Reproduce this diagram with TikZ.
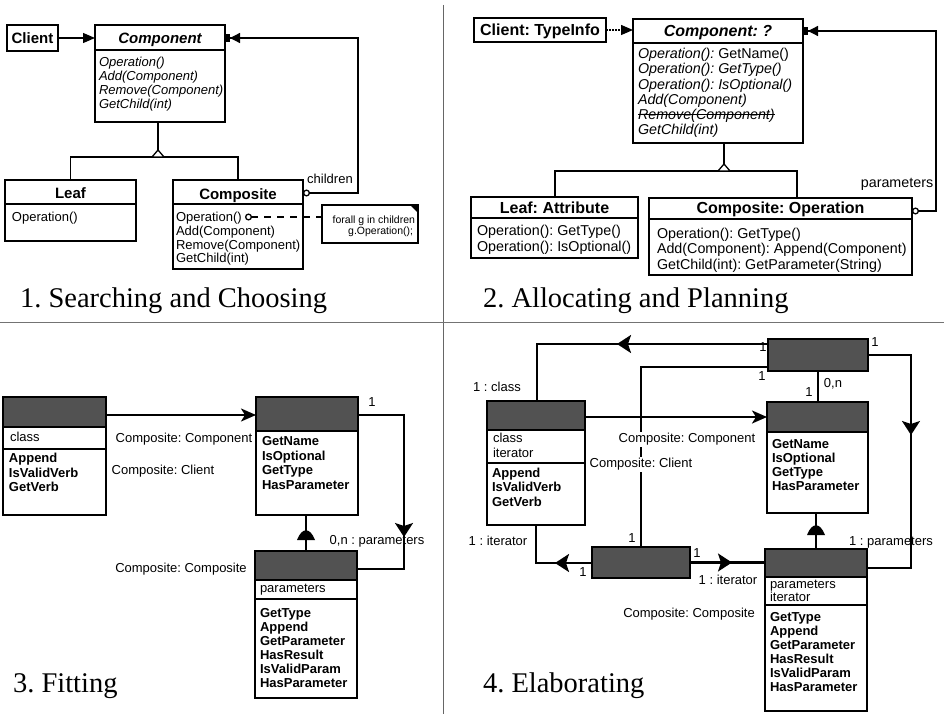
\documentclass[tikz,border=0pt]{standalone}
\usepackage{fontspec}
\setmainfont{Liberation Serif}
\setsansfont{Liberation Sans}
\usetikzlibrary{arrows.meta,decorations.markings}
\frenchspacing

% horizontal compartment rule across a class box, #3 below its top edge
\newcommand\cmpline[3][]{\draw[#1] ([yshift=-#3]#2.north west) -- ([yshift=-#3]#2.north east);}

\begin{document}
\begin{tikzpicture}[x=1pt,y=-1pt,
  every node/.style={inner sep=0pt,outer sep=0pt},
  caption/.style={font=\fontsize{28.5}{30}\selectfont,anchor=base west},
  % plain class boxes (top row)
  ubox/.style={draw,line width=1.5pt,anchor=north west},
  usep/.style={line width=1.3pt},
  uline/.style={line width=1.3pt},
  tA/.style={font=\sffamily\bfseries\itshape\fontsize{15}{17}\selectfont,anchor=base},
  tB/.style={font=\sffamily\bfseries\fontsize{15}{17}\selectfont,anchor=base},
  tA2/.style={font=\sffamily\bfseries\itshape\fontsize{16}{18}\selectfont,anchor=base},
  tB2/.style={font=\sffamily\bfseries\fontsize{16}{18}\selectfont,anchor=base},
  bR/.style={font=\sffamily\fontsize{13}{14}\selectfont,anchor=base west},
  bI/.style={font=\sffamily\itshape\fontsize{13}{14}\selectfont,anchor=base west},
  bR2/.style={font=\sffamily\fontsize{14.3}{15}\selectfont,anchor=base west},
  lab2/.style={font=\sffamily\fontsize{14.3}{15}\selectfont,anchor=base},
  lab1/.style={font=\sffamily\fontsize{13}{14}\selectfont,anchor=base},
  notetext/.style={font=\sffamily\fontsize{10.5}{12}\selectfont,anchor=base east},
  gentri/.style={line width=1.3pt,fill=white,line join=miter},
  utip/.style={-{Triangle[length=12pt,width=10pt]}},
  owntip/.style={{Circle[open,length=7pt,width=7pt]}-{Triangle[length=10pt,width=10pt]Square[length=5pt,width=8pt]}},
  % class boxes with dark headers (bottom row)
  hdfill/.style={fill=black!68},
  dbox/.style={draw,line width=2.2pt,anchor=north west},
  dhead/.style={path picture={\fill[hdfill] (path picture bounding box.north west) rectangle ([yshift=-#1]path picture bounding box.north east);}},
  dsep/.style={line width=2.2pt},
  dline/.style={line width=2.2pt},
  mB/.style={font=\sffamily\bfseries\fontsize{13}{14}\selectfont,anchor=base west},
  mR/.style={font=\sffamily\fontsize{13}{14}\selectfont,anchor=base west},
  dlab/.style={font=\sffamily\fontsize{13}{14}\selectfont,anchor=base},
  wlab/.style={dlab,fill=white,inner sep=1.5pt},
  endtip/.style={-{Stealth[length=15pt,width=13pt,inset=4pt]}},
  midarrow/.style={postaction={decorate,decoration={markings,
      mark=at position #1 with {\arrow{Stealth[length=14pt,width=18pt,inset=3pt]}}}}},
  dome/.style={fill=black}
]
\useasboundingbox (0,0) rectangle (944,714);
\fill[white] (0,0) rectangle (944,714);

% quadrant dividers
\draw[line width=0.7pt,black!60] (443,5) -- (443,714);
\draw[line width=0.7pt,black!55] (0,322) -- (944,322);

%% ---------------- 1. Searching and Choosing ----------------
\node[ubox,line width=2.2pt,minimum width=51pt,minimum height=26pt] (cli1) at (7,25) {};
\node[tB] (cli1t) at (32.5,43.4) {Client};

\node[ubox,minimum width=130pt,minimum height=97pt] (cmp1) at (95,25) {};
\cmpline[usep]{cmp1}{25pt}
\node[tA] (cmp1t) at (160,43.4) {Component};
\node[bI] (cmp1a) at (99,66.7) {Operation()};
\node[bI] (cmp1b) at (99,80.8) {Add(Component)};
\node[bI] (cmp1c) at (99,94.9) {Remove(Component)};
\node[bI] (cmp1d) at (99,109) {GetChild(int)};

\node[ubox,minimum width=131pt,minimum height=61pt] (leaf1) at (5,180) {};
\cmpline[usep]{leaf1}{24pt}
\node[tB] (leaf1t) at (70.5,198.4) {Leaf};
\node[bR] (leaf1a) at (12,221.7) {Operation()};

\node[ubox,minimum width=130pt,minimum height=89pt] (cps1) at (173,180) {};
\cmpline[usep]{cps1}{24pt}
\node[tB] (cps1t) at (238,199) {Composite};
\node[bR] (cps1a) at (176,221.7) {Operation()};
\node[bR] (cps1b) at (176,235.4) {Add(Component)};
\node[bR] (cps1c) at (176,249.1) {Remove(Component)};
\node[bR] (cps1d) at (176,262.8) {GetChild(int)};

\node[draw,line width=1.1pt,anchor=north west,minimum width=96pt,minimum height=38pt] (note1) at (322,205) {};
\fill (note1.north east) -- ([xshift=-8pt]note1.north east) -- ([yshift=-8pt]note1.north east) -- cycle;
\node[notetext] (note1a) at (415,223.8) {forall g in children};
\node[notetext] (note1b) at (413,234.8) {g.Operation();};

\draw[uline,utip] (cli1.east) -- (cli1.east -| cmp1.west);

\coordinate (g1) at (158,157);
\draw[uline] (cmp1.south -| g1) -- (g1);
\draw[uline] (leaf1.north) -- (leaf1.north |- g1) -- (cps1.north |- g1) -- (cps1.north);
\draw[gentri] ([xshift=-6pt]g1) -- ([yshift=7pt]g1) -- ([xshift=6pt]g1) -- cycle;

\coordinate (ch1a) at (358,193);
\coordinate (ch1b) at (358,38);
\draw[uline,owntip] (cps1.east |- ch1a) -- (ch1a) -- (ch1b) -- (ch1b -| cmp1.east);
\node[lab1] (ch1l) at (330,183.7) {children};

\coordinate (op1) at (245,217);
\draw[uline,dash pattern=on 7pt off 6pt,{Circle[open,length=7pt,width=7pt]}-] (op1) -- (op1 -| note1.west);

\node[caption] (cap1) at (20,307) {1. Searching and Choosing};

%% ---------------- 2. Allocating and Planning ----------------
\node[ubox,line width=2.2pt,minimum width=132pt,minimum height=24pt] (cli2) at (474,18) {};
\node[tB2] (cli2t) at (540,35.8) {Client: TypeInfo};

\node[ubox,minimum width=170pt,minimum height=124pt] (cmp2) at (633,19) {};
\cmpline[usep]{cmp2}{24pt}
\node[tA2] (cmp2t) at (718,36.8) {Component: ?};
\node[bR2] (cmp2a) at (638,58.5) {\itshape Operation():\upshape\ GetName()};
\node[bR2] (cmp2b) at (638,73.8) {\itshape Operation(): GetType()};
\node[bR2] (cmp2c) at (638,89.1) {\itshape Operation(): IsOptional()};
\node[bR2] (cmp2d) at (638,104.4) {\itshape Add(Component)};
\node[bR2] (cmp2e) at (638,119.7) {\itshape Remove(Component)};
\draw[line width=1.1pt] (cmp2e.west |- 0,114.6) -- (cmp2e.east |- 0,114.6);
\node[bR2] (cmp2f) at (638,135) {\itshape GetChild(int)};

\node[ubox,minimum width=167pt,minimum height=61pt] (leaf2) at (471,197) {};
\cmpline[usep]{leaf2}{21pt}
\node[tB2] (leaf2t) at (554.5,213.3) {Leaf: Attribute};
\node[bR2] (leaf2a) at (477,235.1) {Operation(): GetType()};
\node[bR2] (leaf2b) at (477,251.1) {Operation(): IsOptional()};

\node[ubox,minimum width=263pt,minimum height=77pt] (cps2) at (649,198) {};
\cmpline[usep]{cps2}{21pt}
\node[tB2] (cps2t) at (780.5,213.8) {Composite: Operation};
\node[bR2] (cps2a) at (657,238.1) {Operation(): GetType()};
\node[bR2] (cps2b) at (657,253.6) {Add(Component): Append(Component)};
\node[bR2] (cps2c) at (657,269.1) {GetChild(int): GetParameter(String)};

\draw[uline,dash pattern=on 1.5pt off 1.5pt,utip] (cli2.east) -- (cli2.east -| cmp2.west);

\coordinate (g2) at (724,171);
\coordinate (g2l) at (555,171);
\coordinate (g2r) at (797,171);
\draw[uline] (cmp2.south -| g2) -- (g2);
\draw[uline] (g2l |- leaf2.north) -- (g2l) -- (g2r) -- (g2r |- cps2.north);
\draw[gentri] ([xshift=-6pt]g2) -- ([yshift=7pt]g2) -- ([xshift=6pt]g2) -- cycle;

\coordinate (pa2a) at (936,211);
\coordinate (pa2b) at (936,31);
\draw[uline,owntip] (cps2.east |- pa2a) -- (pa2a) -- (pa2b) -- (pa2b -| cmp2.east);
\node[lab2] (pa2l) at (897,187) {parameters};

\node[caption] (cap2) at (483,307) {2. Allocating and Planning};

%% ---------------- 3. Fitting ----------------
\node[dbox,dhead=30pt,minimum width=103pt,minimum height=118pt] (ti3) at (3,397) {};
\cmpline[dsep]{ti3}{30pt}
\cmpline[dsep]{ti3}{52pt}
\node[mR] (ti3a) at (10,441.8) {class};
\node[mB] (ti3b) at (9,462.8) {Append};
\node[mB] (ti3c) at (9,477.3) {IsValidVerb};
\node[mB] (ti3d) at (9,491.8) {GetVerb};

\node[dbox,dhead=34pt,minimum width=102pt,minimum height=118pt] (at3) at (256,397) {};
\cmpline[dsep]{at3}{34pt}
\node[mB] (at3a) at (262,445.8) {GetName};
\node[mB] (at3b) at (262,460.3) {IsOptional};
\node[mB] (at3c) at (262,474.8) {GetType};
\node[mB] (at3d) at (262,489.3) {HasParameter};

\node[dbox,dhead=29pt,minimum width=102pt,minimum height=147pt] (op3) at (255,551) {};
\cmpline[dsep]{op3}{29pt}
\cmpline[dsep]{op3}{48pt}
\node[mR] (op3a) at (260,592.8) {parameters};
\node[mB] (op3b) at (260,617.8) {GetType};
\node[mB] (op3c) at (260,631.8) {Append};
\node[mB] (op3d) at (260,645.8) {GetParameter};
\node[mB] (op3e) at (260,659.8) {HasResult};
\node[mB] (op3f) at (260,673.8) {IsValidParam};
\node[mB] (op3g) at (260,687.8) {HasParameter};

\coordinate (c3) at (0,415);
\draw[dline,endtip] (ti3.east |- c3) -- (at3.west |- c3);

\coordinate (p3a) at (404,415);
\coordinate (p3b) at (404,569);
\draw[dline,midarrow=168pt] (at3.east |- p3a) -- (p3a) -- (p3b) -- (p3b -| op3.east);

\draw[dline] (op3.north) -- (op3.north |- at3.south);
\coordinate (dm3) at (306,540);
\fill[dome] ([xshift=-9pt]dm3) .. controls ([shift={(-4pt,13pt)}]dm3) and ([shift={(4pt,13pt)}]dm3) .. ([xshift=9pt]dm3) -- cycle;

\node[dlab] (l3a) at (184,442.7) {Composite: Component};
\node[dlab] (l3b) at (163,474.7) {Composite: Client};
\node[dlab] (l3c) at (181,572.7) {Composite: Composite};
\node[dlab] (l3d) at (372,406.7) {1};
\node[dlab] (l3e) at (377,544.7) {0,n : parameters};

\node[caption] (cap3) at (13,692.5) {3. Fitting};

%% ---------------- 4. Elaborating ----------------
\node[dbox,dhead=29pt,minimum width=98pt,minimum height=124pt] (ti4) at (487,401) {};
\cmpline[dsep]{ti4}{29pt}
\cmpline[dsep]{ti4}{62pt}
\node[mR] (ti4a) at (493,442.7) {class};
\node[mR] (ti4b) at (493,457.7) {iterator};
\node[mB] (ti4c) at (492,477.7) {Append};
\node[mB] (ti4d) at (492,491.7) {IsValidVerb};
\node[mB] (ti4e) at (492,506.7) {GetVerb};

\node[dbox,dhead=40pt,minimum width=100pt,minimum height=32pt] (pr4) at (768,339) {};

\node[dbox,dhead=30pt,minimum width=101pt,minimum height=111pt] (at4) at (767,402) {};
\cmpline[dsep]{at4}{30pt}
\node[mB] (at4a) at (772,448.7) {GetName};
\node[mB] (at4b) at (772,462.7) {IsOptional};
\node[mB] (at4c) at (772,476.7) {GetType};
\node[mB] (at4d) at (772,490.7) {HasParameter};

\node[dbox,dhead=40pt,minimum width=98pt,minimum height=31pt] (it4) at (592,547) {};

\node[dbox,dhead=28pt,minimum width=102pt,minimum height=162pt] (op4) at (765,549) {};
\cmpline[dsep]{op4}{28pt}
\cmpline[dsep]{op4}{56pt}
\node[mR] (op4a) at (770,588.7) {parameters};
\node[mR] (op4b) at (770,601.7) {iterator};
\node[mB] (op4c) at (770,621.7) {GetType};
\node[mB] (op4d) at (770,635.7) {Append};
\node[mB] (op4e) at (770,649.7) {GetParameter};
\node[mB] (op4f) at (770,663.7) {HasResult};
\node[mB] (op4g) at (770,677.7) {IsValidParam};
\node[mB] (op4h) at (770,691.7) {HasParameter};

% class link
\coordinate (a4) at (537,344);
\draw[dline,midarrow=151pt] (pr4.west |- a4) -- (a4) -- (a4 |- ti4.north);
% client link
\coordinate (b4) at (641,367);
\draw[dline] (pr4.west |- b4) -- (b4) -- (b4 |- it4.north);
% component link
\coordinate (c4) at (0,417);
\draw[dline,endtip] (ti4.east |- c4) -- (at4.west |- c4);
% parameter to attribute
\draw[dline] (pr4.south) -- (pr4.south |- at4.north);
% parameters link
\coordinate (e4a) at (911,355);
\coordinate (e4b) at (911,568);
\draw[dline,midarrow=123pt] (pr4.east |- e4a) -- (e4a) -- (e4b) -- (e4b -| op4.east);
% generalisation
\draw[dline] (op4.north) -- (op4.north |- at4.south);
\coordinate (dm4) at (816,535);
\fill[dome] ([xshift=-9pt]dm4) .. controls ([shift={(-4pt,13pt)}]dm4) and ([shift={(4pt,13pt)}]dm4) .. ([xshift=9pt]dm4) -- cycle;
% iterator links
\coordinate (g4) at (536,563);
\draw[dline,midarrow=37pt] (it4.west |- g4) -- (g4) -- (g4 |- ti4.south);
\draw[dline,midarrow=42pt] (it4.east) -- (it4.east -| op4.west);

\node[dlab] (l4a) at (497,391.7) {1 : class};
\node[dlab] (l4b) at (763,351.7) {1};
\node[dlab] (l4c) at (762,380.7) {1};
\node[dlab] (l4d) at (632,542.7) {1};
\node[dlab] (l4e) at (833,387.7) {0,n};
\node[dlab] (l4f) at (809,396.7) {1};
\node[dlab] (l4g) at (875,346.7) {1};
\node[dlab] (l4h) at (891,545.7) {1 : parameters};
\node[dlab] (l4i) at (583,576.7) {1};
\node[dlab] (l4j) at (498,545.7) {1 : iterator};
\node[dlab] (l4k) at (697,557.7) {1};
\node[dlab] (l4l) at (728,584.7) {1 : iterator};
\node[dlab] (l4m) at (689,617.7) {Composite: Composite};
\node[wlab] (l4n) at (687,442.7) {Composite: Component};
\node[wlab] (l4o) at (641,467.7) {Composite: Client};

\node[caption] (cap4) at (483,692.5) {4. Elaborating};
\end{tikzpicture}
\end{document}
